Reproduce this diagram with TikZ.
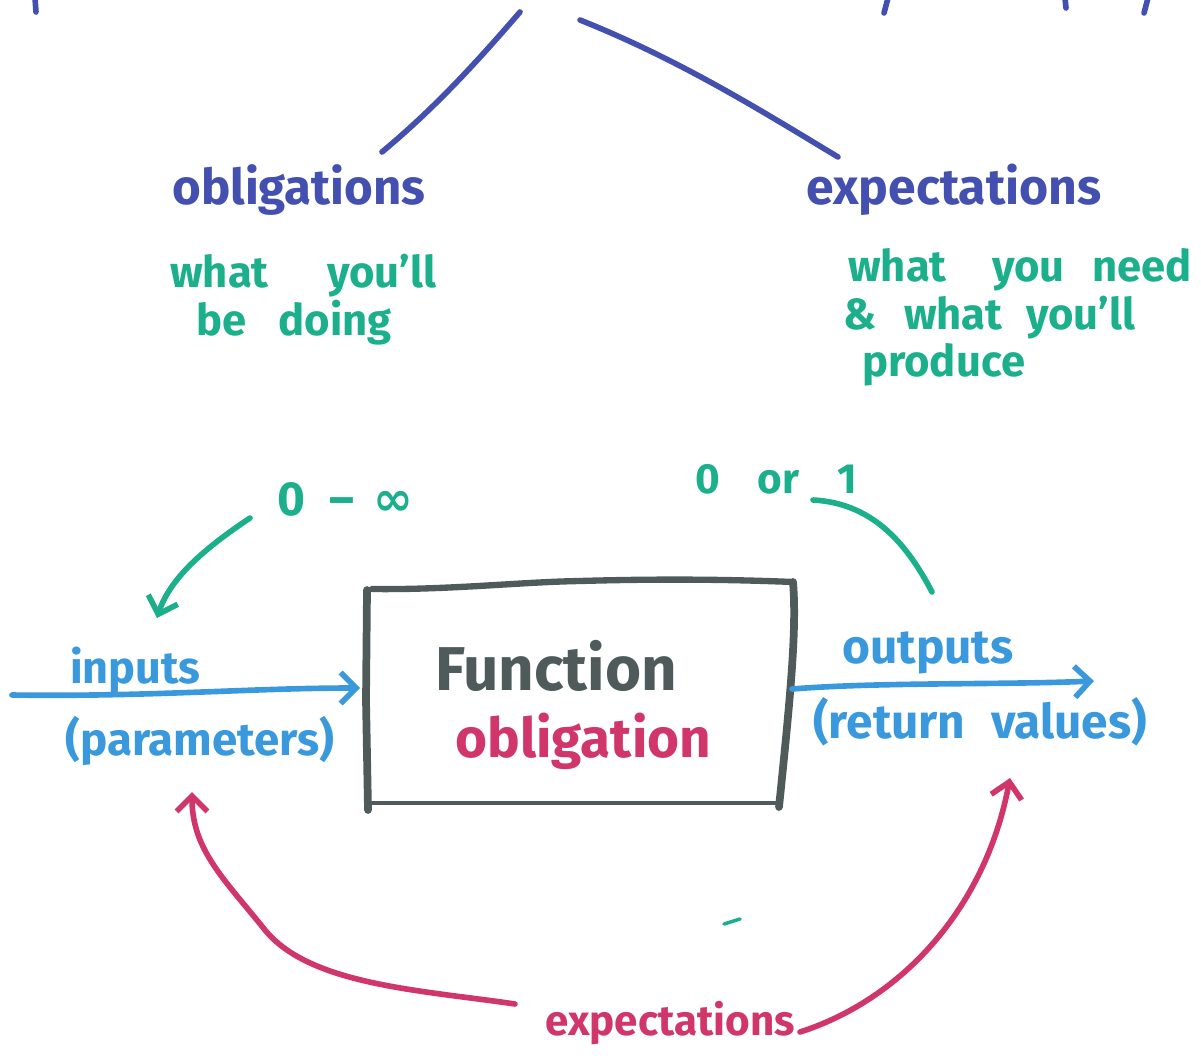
\documentclass[tikz,border=0pt]{standalone}
\usepackage{fontspec}
\setmainfont{Fira Sans}
\newfontfamily\symf{DejaVu Sans}
\usetikzlibrary{arrows.meta}
\definecolor{cindigo}{HTML}{4350AF}
\definecolor{cgreen}{HTML}{1BAF8B}
\definecolor{cblue}{HTML}{3A99DC}
\definecolor{cgrey}{HTML}{4F5B5B}
\definecolor{cpink}{HTML}{D0366A}
\newcommand\fsz[1]{\fontsize{#1}{#1}\selectfont\bfseries}
\tikzset{
  hand/.style={inner sep=0pt, anchor=base west},
  pen/.style={line width=4pt, line cap=round, line join=round},
  barb/.style={-{Straight Barb[length=11pt,width=22pt]}},
}
\begin{document}
\begin{tikzpicture}[x=0.025cm,y=-0.025cm]
\useasboundingbox (0,0) rectangle (1201,1056);

% cut-off strokes at the top edge
\draw[pen, cindigo] (35,-2) -- (36,12);
\draw[pen, cindigo] (888,-2) -- (884,13);
\draw[pen, cindigo] (1065,-2) -- (1066,8);
\draw[pen, cindigo] (1148,-2) -- (1144,13);

% top labels
\node[hand, text=cindigo, font=\fsz{35}] (obl) at (172,205) {obligations};
\node[hand, text=cindigo, font=\fsz{35.5}] (exp) at (806,205) {expectations};

\coordinate (topL) at (520,12);
\coordinate (topR) at (580,20);
\coordinate (oblTop) at (382,152);
\coordinate (expTop) at (838,157);
\draw[pen, cindigo] (topL) .. controls (470,70) and (430,112) .. (oblTop);
\draw[pen, cindigo] (topR) .. controls (680,60) and (760,110) .. (expTop);

% green explanations
\node[hand, text=cgreen, font=\fsz{31}] (g1) at (170,288) {what\hspace{1.1em} you’ll};
\node[hand, text=cgreen, font=\fsz{31}] (g2) at (196,336) {be\hspace{0.5em} doing};
\node[hand, text=cgreen, font=\fsz{31}] (g3) at (848,282) {what\hspace{0.8em} you\hspace{0.4em} need};
\node[hand, text=cgreen, font=\fsz{31}] (g4) at (843,330) {\&\hspace{0.4em} what\hspace{0.3em} you’ll};
\node[hand, text=cgreen, font=\fsz{31}] (g5) at (862,376) {produce};

\node[hand, text=cgreen, font=\fsz{34}] (zinf) at (277,515) {0\hspace{0.5em}–\hspace{0.4em}{\symf ∞}};
\node[hand, text=cgreen, font=\fsz{30}] (zor) at (695,493) {0\hspace{0.9em}or\hspace{0.9em}1};

% box
\node[minimum width=430*0.025cm, minimum height=220*0.025cm, inner sep=0pt] (box) at (580,697) {};
\draw[line width=5.5pt, line cap=round, cgrey] (367,590) -- (366,700) -- (368,810);
\draw[line width=4.5pt, line cap=round, line join=round, cgrey] (372,589) .. controls (450,590) and (520,582) .. (580,581) .. controls (650,579) and (720,579) .. (793,582);
\draw[line width=5.5pt, line cap=round, line join=round, cgrey] (793,582) .. controls (797,630) and (790,700) .. (779,807);
\draw[line width=3.4pt, cgrey] (366,803) -- (778,803);

\node[hand, text=cgrey, font=\fsz{44}] (fn) at (435,690) {Function};
\node[hand, text=cpink, font=\fsz{39}] (obg) at (455,757) {obligation};

% inputs
\node[hand, text=cblue, font=\fsz{32}] (in1) at (70,683) {inputs};
\node[hand, text=cblue, font=\fsz{32.5}] (in2) at (65,755) {(parameters)};
\coordinate (inStart) at (12,695);
\coordinate (inEnd) at (360,688);
\draw[pen, cblue, barb] (inStart) .. controls (150,697) and (250,688) .. (inEnd);

% outputs
\node[hand, text=cblue, font=\fsz{34}] (out1) at (842,663) {outputs};
\node[hand, text=cblue, font=\fsz{34}] (out2) at (813,738) {(return\hspace{0.3em} values)};
\coordinate (outStart) at (792,689);
\coordinate (outEnd) at (1094,681);
\draw[pen, cblue, barb] (outStart) .. controls (880,682) and (1000,685) .. (outEnd);

% green arrows
\coordinate (zA) at (250,518);
\coordinate (zB) at (157,618);
\draw[pen, cgreen, barb] (zA) .. controls (205,548) and (170,578) .. (zB);
\coordinate (oA) at (813,500);
\coordinate (oB) at (932,592);
\draw[pen, cgreen] (oA) .. controls (870,503) and (905,540) .. (oB);
\draw[line width=2.5pt, line cap=round, cgreen] (724,924) -- (740,919);

% bottom expectations
\node[hand, text=cpink, font=\fsz{30}] (exb) at (545,1035) {expectations};
\coordinate (pL) at (515,1004);
\coordinate (pLend) at (192,792);
\draw[pen, cpink, barb] (pL) .. controls (420,990) and (310,985) .. (265,930) .. controls (225,880) and (192,850) .. (pLend);
\coordinate (pR) at (800,1032);
\coordinate (pRend) at (1010,778);
\draw[pen, cpink, barb] (pR) .. controls (900,1000) and (985,910) .. (pRend);
\end{tikzpicture}
\end{document}
